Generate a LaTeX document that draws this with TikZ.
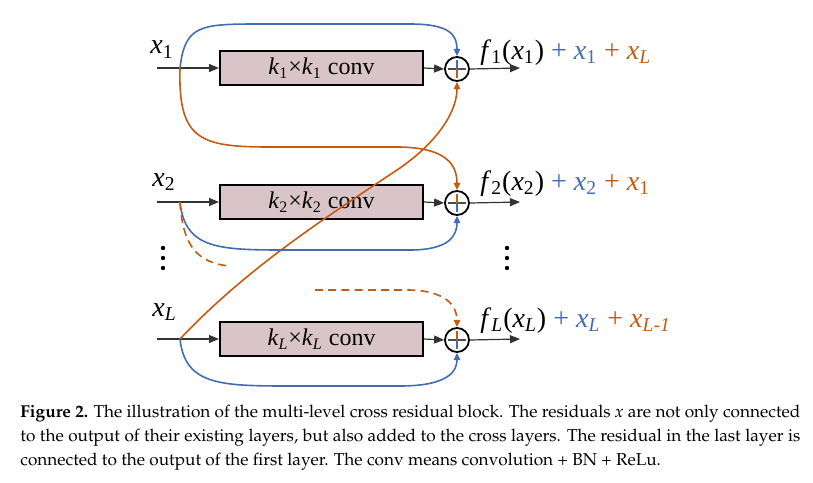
\documentclass[tikz,border=0pt]{standalone}
\usepackage[T1]{fontenc}
\usepackage{fontspec}
\setmainfont{Liberation Serif}
\newfontfamily\diagfont{Liberation Serif}
\usetikzlibrary{arrows.meta}
\definecolor{cblue}{RGB}{68,108,180}
\definecolor{corange}{RGB}{197,90,17}
\definecolor{cbox}{RGB}{217,196,201}
\newcommand{\capfont}{\fontencoding{T1}\fontfamily{ppl}\fontsize{8.6}{11}\selectfont}
\tikzset{
  convbox/.style={draw=black, line width=1pt, fill=cbox, minimum width=101.5pt, minimum height=17pt, inner sep=0pt, font=\diagfont\fontsize{12}{13}\selectfont},
  sumnode/.style={circle, draw=black, line width=0.9pt, fill=white, minimum size=12pt, inner sep=0pt},
  blk/.style={draw=black!80, line width=0.6pt, -{Triangle[length=5pt,width=4pt]}},
  bres/.style={draw=cblue, line width=0.8pt, -{Triangle[length=3.6pt,width=3.2pt]}},
  ores/.style={draw=corange, line width=0.8pt, -{Triangle[length=3.6pt,width=3.2pt]}},
  odash/.style={draw=corange, line width=0.8pt, dash pattern=on 4pt off 2.6pt},
  lbl/.style={anchor=base west, inner sep=0pt, font=\diagfont\fontsize{14}{15}\selectfont},
  outl/.style={anchor=base west, inner sep=0pt, font=\diagfont\fontsize{14}{15}\selectfont},
  vdot/.style={circle, fill=black, minimum size=2.2pt, inner sep=0pt},
  captl/.style={anchor=base west, inner sep=0pt, font=\capfont}
}
\begin{document}
\begin{tikzpicture}[x=0.5pt,y=-0.5pt]
\useasboundingbox (0,0) rectangle (813,482);
% rows
\foreach \r/\y in {1/68, 2/202, 3/339}{
  \coordinate (in\r) at (157,\y);
  \coordinate (j\r) at (180,\y);
  \coordinate (out\r) at (520,\y);
}
\node[convbox] (b1) at (321.5,68) {\textit{k}\textsubscript{1}×\textit{k}\textsubscript{1} conv};
\node[convbox] (b2) at (321.5,202) {\textit{k}\textsubscript{2}×\textit{k}\textsubscript{2} conv};
\node[convbox] (b3) at (321.5,339) {\textit{k}\textsubscript{\textit{L}}×\textit{k}\textsubscript{\textit{L}} conv};
\node[sumnode] (c1) at (457,69) {};
\node[sumnode] (c2) at (457,203) {};
\node[sumnode] (c3) at (457,340) {};
% plus signs inside
\foreach \c/\tc/\bc in {c1/cblue/corange, c2/corange/cblue, c3/corange/cblue}{
  \draw[black!70, line width=0.6pt] ([xshift=-4.5pt]\c.center) -- ([xshift=4.5pt]\c.center);
  \draw[\tc, line width=0.6pt] ([yshift=4.5pt]\c.center) -- (\c.center);
  \draw[\bc, line width=0.6pt] ([yshift=-4.5pt]\c.center) -- (\c.center);
}
% input labels
\node[lbl] (lx1) at (150,54) {\textit{x}\textsubscript{1}};
\node[lbl] (lx2) at (152,186) {\textit{x}\textsubscript{2}};
\node[lbl] (lx3) at (152,316) {\textit{x}\textsubscript{\textit{L}}};
% main arrows
\foreach \r in {1,2,3}{
  \draw[blk] (in\r) -- (b\r.west);
  \draw[blk] (b\r.east) -- (c\r.west);
  \draw[blk] (c\r.east) -- (out\r);
}
% output labels
\node[outl] (o1) at (480,59) {\textit{f}\textsubscript{1}(\textit{x}\textsubscript{1}) \textcolor{cblue}{+ \textit{x}\textsubscript{1}} \textcolor{corange}{+ \textit{x}\textsubscript{\textit{L}}}};
\node[outl] (o2) at (480,190) {\textit{f}\textsubscript{2}(\textit{x}\textsubscript{2}) \textcolor{cblue}{+ \textit{x}\textsubscript{2}} \textcolor{corange}{+ \textit{x}\textsubscript{1}}};
\node[outl] (o3) at (480,327) {\textit{f}\textsubscript{\textit{L}}(\textit{x}\textsubscript{\textit{L}}) \textcolor{cblue}{+ \textit{x}\textsubscript{\textit{L}}} \textcolor{corange}{+ \textit{x}\textsubscript{\textit{L-1}}}};
% residual connections
\draw[bres] (j1) .. controls (185,25) and (200,24) .. (260,24) -- (410,24) .. controls (450,24) and (457,35) .. (c1.north);
\draw[ores] (j1) .. controls (178,140) and (200,147) .. (270,147) -- (400,147) .. controls (440,148) and (457,160) .. (c2.north);
\draw[ores] (j3) .. controls (250,265) and (330,215) .. (400,168) .. controls (440,140) and (457,110) .. (c1.south);
\draw[bres] (j2) .. controls (185,250) and (220,250) .. (290,250) -- (410,250) .. controls (450,250) and (457,235) .. (c2.south);
\draw[bres] (j3) .. controls (185,385) and (220,386) .. (290,386) -- (400,386) .. controls (450,386) and (457,370) .. (c3.south);
\coordinate (d2) at (228,266);
\coordinate (dl) at (315,290);
\draw[odash] (j2) .. controls (183,250) and (200,262) .. (d2);
\draw[odash, -{Triangle[length=3.6pt,width=3.2pt]}] (dl) -- (410,290) .. controls (445,291) and (457,305) .. (c3.north);
% vertical dots
\foreach \yy [count=\i] in {248,258,268}{
  \node[vdot] (ld\i) at (163,\yy) {};
  \node[vdot] (rd\i) at (507,\yy) {};
}
% caption
\node[captl] (cap1) at (20,417) {\makebox[390pt][s]{\textbf{Figure 2.} The illustration of the multi-level cross residual block. The residuals \textit{x} are not only connected}};
\node[captl] (cap2) at (20,441) {\makebox[390pt][s]{to the output of their existing layers, but also added to the cross layers. The residual in the last layer is}};
\node[captl] (cap3) at (20,465) {connected to the output of the first layer. The conv means convolution + BN + ReLu.};
\end{tikzpicture}
\end{document}
